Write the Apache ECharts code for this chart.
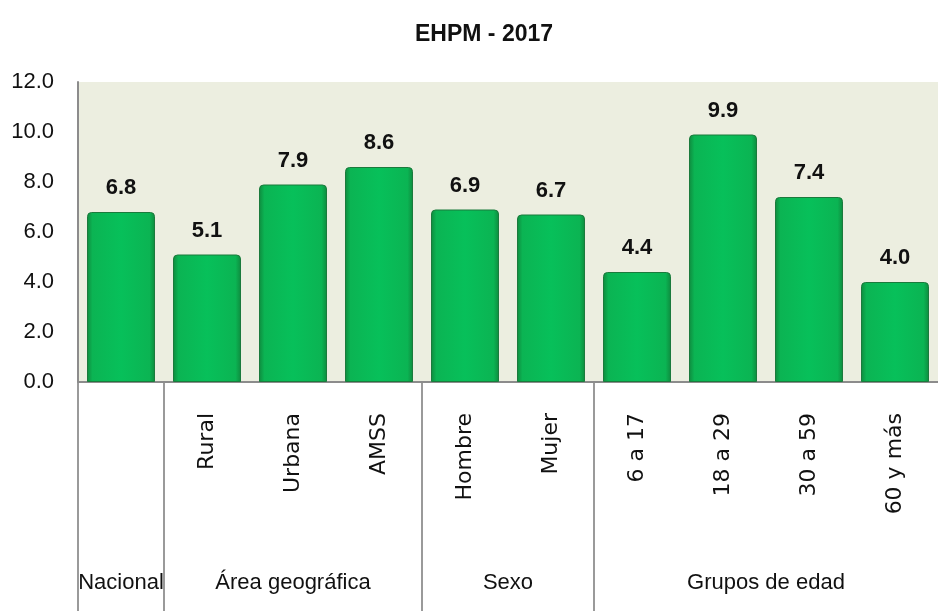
<!DOCTYPE html>
<html>
<head>
<meta charset="utf-8">
<script src="https://cdn.jsdelivr.net/npm/echarts@6/dist/echarts.min.js"></script>
<style>
  html, body { margin: 0; padding: 0; background: #fff; }
  #chart { width: 938px; height: 611px; }
</style>
</head>
<body>
<div id="chart"></div>
<script>
// datos EHPM 2017
var categorias = ['Nacional', 'Rural', 'Urbana', 'AMSS', 'Hombre', 'Mujer', '6 a 17', '18 a 29', '30 a 59', '60 y más'];
var valores = [6.8, 5.1, 7.9, 8.6, 6.9, 6.7, 4.4, 9.9, 7.4, 4.0];
var grupos = ['Nacional', 'Área geográfica', 'Sexo', 'Grupos de edad'];
var grupoInicio = [0, 1, 4, 6];
var grupoFin = [0, 3, 5, 9];

var fuenteCal = '"Liberation Sans Narrow", "Liberation Sans", sans-serif';

var myChart = echarts.init(document.getElementById('chart'));

var option = {
    animation: false,
    title: {
        text: 'EHPM - 2017',
        left: 410,
        top: 18,
        textStyle: {
            fontFamily: fuenteCal,
            fontSize: 23,
            fontWeight: 'bold',
            color: '#111'
        }
    },
    grid: {
        left: 78,
        right: 0,
        top: 82,
        bottom: 229,
        show: true,
        backgroundColor: '#eceee0',
        borderWidth: 0
    },
    xAxis: {
        type: 'category',
        data: categorias,
        axisLine: { lineStyle: { color: '#8c8c8c', width: 2 } },
        axisTick: { show: false },
        axisLabel: {
            rotate: 90,
            margin: 31,
            fontFamily: 'DejaVu Sans',
            fontSize: 22,
            color: '#111',
            formatter: function (v, i) {
                // Nacional va solo abajo
                return i === 0 ? '' : v;
            }
        }
    },
    yAxis: {
        type: 'value',
        min: 0,
        max: 12,
        interval: 2,
        axisLine: { show: true, lineStyle: { color: '#8c8c8c', width: 2 } },
        axisTick: { show: false },
        splitLine: { show: false },
        axisLabel: {
            margin: 24,
            fontFamily: fuenteCal,
            fontSize: 22,
            color: '#111',
            formatter: function (v) { return v.toFixed(1); }
        }
    },
    series: [
        {
            type: 'bar',
            data: valores,
            barWidth: 68,
            itemStyle: {
                color: new echarts.graphic.LinearGradient(0, 0, 1, 0, [
                    { offset: 0, color: '#0f8a3e' },
                    { offset: 0.08, color: '#0bb453' },
                    { offset: 0.5, color: '#07c05a' },
                    { offset: 0.92, color: '#0bb453' },
                    { offset: 1, color: '#0f8a3e' }
                ]),
                borderColor: '#1b7a3c',
                borderWidth: 1,
                borderRadius: [4, 4, 0, 0]
            },
            label: {
                show: true,
                position: 'top',
                distance: 13,
                fontFamily: fuenteCal,
                fontSize: 22,
                fontWeight: 'bold',
                color: '#111',
                formatter: function (p) { return p.value.toFixed(1); }
            }
        }
    ]
};

myChart.setOption(option);

// etiquetas de grupo y separadores abajo
var x0 = myChart.convertToPixel({ xAxisIndex: 0 }, categorias[0]);
var banda = myChart.convertToPixel({ xAxisIndex: 0 }, categorias[1]) - x0;
var yEje = myChart.convertToPixel({ yAxisIndex: 0 }, 0);
var graficos = [];
for (let g = 0; g < grupos.length; g++) {
    let x1 = myChart.convertToPixel({ xAxisIndex: 0 }, categorias[grupoInicio[g]]);
    let x2 = myChart.convertToPixel({ xAxisIndex: 0 }, categorias[grupoFin[g]]);
    let xs = Math.round(x1 - banda / 2);
    graficos.push({
        type: 'line',
        shape: { x1: xs, y1: yEje, x2: xs, y2: 611 },
        style: { stroke: '#9a9a9a', lineWidth: 2 }
    });
    graficos.push({
        type: 'text',
        x: (x1 + x2) / 2,
        y: 583,
        style: {
            text: grupos[g],
            fontFamily: fuenteCal,
            fontSize: 22,
            fill: '#111',
            align: 'center',
            verticalAlign: 'middle'
        }
    });
}
myChart.setOption({ graphic: graficos });
</script>
</body>
</html>
